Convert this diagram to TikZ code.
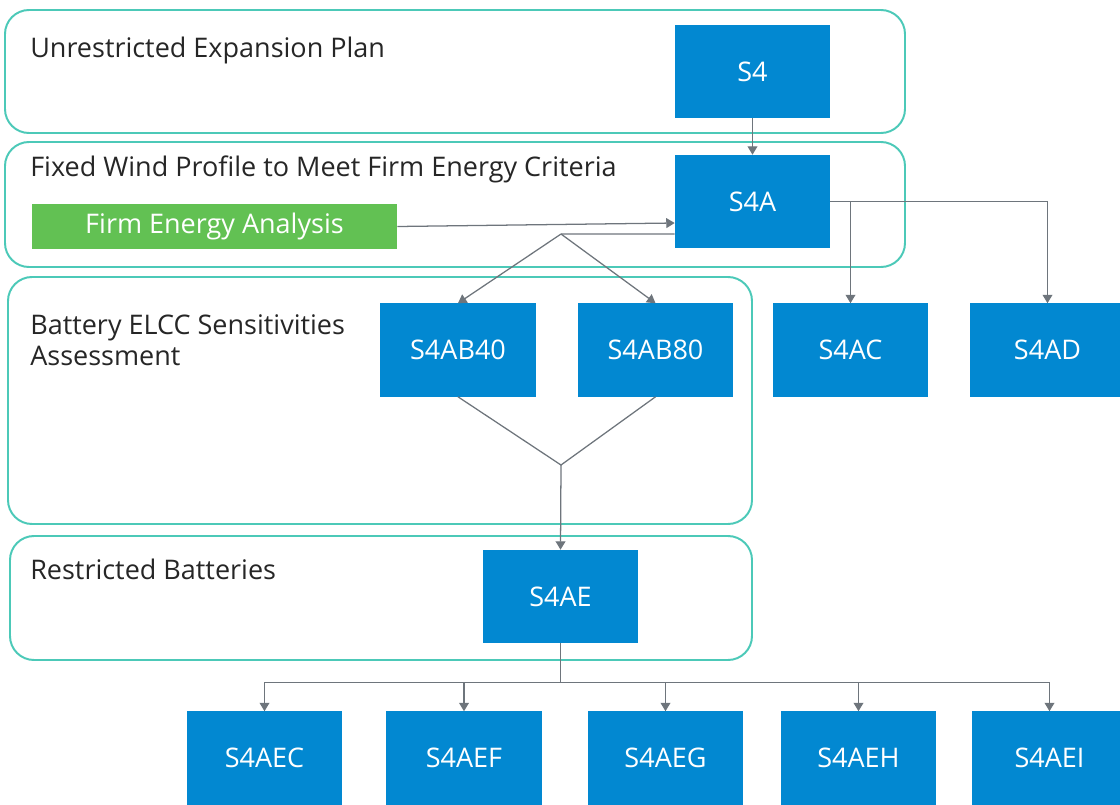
\documentclass[tikz,border=0pt]{standalone}
\usepackage{fontspec}
\setmainfont{Open Sans}
\usetikzlibrary{arrows.meta,calc}

\definecolor{boxblue}{HTML}{0288D1}
\definecolor{framegreen}{HTML}{4CC9B8}
\definecolor{labelgreen}{HTML}{62C153}
\definecolor{linkgrey}{HTML}{6E757C}

\begin{document}
\begin{tikzpicture}[x=0.025cm,y=-0.025cm,
  blk/.style={fill=boxblue,text=white,minimum width=3.875cm,minimum height=2.325cm,inner sep=0pt,font=\fontsize{19.2}{22}\selectfont},
  frame/.style={draw=framegreen,line width=1.4pt,rounded corners=0.6cm},
  lbl/.style={anchor=base west,text=black!85,inner sep=0pt,align=left,font=\fontsize{19.2}{22}\selectfont},
  link/.style={draw=linkgrey,line width=0.9pt},
  arr/.style={link,-{Triangle[length=6pt,width=7pt]}}]

\useasboundingbox (0,0) rectangle (1120,804);

% Frames around the stages
\draw[frame] (5,10) rectangle (905,133);
\draw[frame] (5,142) rectangle (905,267);
\draw[frame] (8,277) rectangle (752,524);
\draw[frame] (10,536) rectangle (752,660);

% Stage titles (base = last line)
\node[lbl] (t1) at (30,57) {Unrestricted Expansion Plan};
\node[lbl] (t2) at (30,176) {Fixed Wind Profile to Meet Firm Energy Criteria};
\node[lbl] (t3) at (30,365) {Battery ELCC Sensitivities\\Assessment};
\node[lbl] (t4) at (30,579) {Restricted Batteries};

% Firm energy input
\node[fill=labelgreen,text=white,minimum width=9.125cm,minimum height=1.125cm,inner sep=0pt,
  font=\fontsize{19.2}{22}\selectfont] (fea) at (214.5,226.5) {Firm Energy Analysis};

% Scenarios
\node[blk] (s4) at (752.5,71.5) {S4};
\node[blk] (s4a) at (752.5,201.5) {S4A};
\node[blk] (s4ab40) at (458,350) {S4AB40};
\node[blk] (s4ab80) at (655.5,350) {S4AB80};
\node[blk] (s4ac) at (850.5,350) {S4AC};
\node[blk] (s4ad) at (1047.5,350) {S4AD};
\node[blk] (s4ae) at (560.5,596.5) {S4AE};

\node[blk] (s4aec) at (264.5,758) {S4AEC};
\node[blk] (s4aef) at (464,758) {S4AEF};
\node[blk] (s4aeg) at (665.5,758) {S4AEG};
\node[blk] (s4aeh) at (858.5,758) {S4AEH};
\node[blk] (s4aei) at (1049.5,758) {S4AEI};

% Links
\draw[arr] (s4) -- (s4a);
\draw[arr] (fea.east) -- ($(s4a.west)+(0,21.5)$);

\coordinate (fork) at (561,234);
\draw[link] ($(s4a.west)+(0,32.5)$) -- (fork);
\draw[arr] (fork) -- (s4ab40.north);
\draw[arr] (fork) -- (s4ab80.north);

\draw[arr] (s4a.east) -| (s4ad.north);
\draw[arr] (s4a.east -| s4ac.north) -- (s4ac.north);

\coordinate (join) at (561,465);
\draw[link] (s4ab40.south) -- (join) -- (s4ab80.south);
\draw[arr] (join) -- (s4ae.north);

\coordinate (bus) at ($(s4ae.south)+(0,39)$);
\draw[link] (s4ae.south) -- (bus);
\draw[arr] (bus) -| (s4aec.north);
\draw[arr] (bus) -| (s4aef.north);
\draw[arr] (bus) -| (s4aeg.north);
\draw[arr] (bus) -| (s4aeh.north);
\draw[arr] (bus) -| (s4aei.north);

\end{tikzpicture}
\end{document}
